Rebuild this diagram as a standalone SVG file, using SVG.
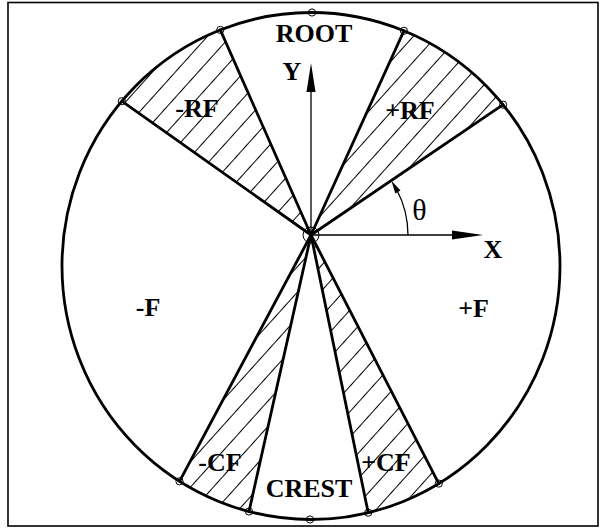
<svg xmlns="http://www.w3.org/2000/svg" width="605" height="529" viewBox="0 0 605 529">
<style>
.thick{stroke:#000;stroke-width:2.8;fill:none;stroke-linecap:round}
.thin{stroke:#000;stroke-width:1.3;fill:none}
.pt{stroke:#000;stroke-width:1;fill:none}
.hatch{fill:url(#h);stroke:none}
.lbl{font-family:"Liberation Serif","Times New Roman",serif;font-weight:bold;font-size:26px;text-anchor:middle;fill:#000}
.greek{font-family:"Liberation Serif","Times New Roman",serif;font-size:30px;text-anchor:middle;fill:#000}
</style>
<defs>
<pattern id="h" patternUnits="userSpaceOnUse" width="17" height="17" patternTransform="rotate(42)">
<line x1="8.5" y1="-1" x2="8.5" y2="18" stroke="#000" stroke-width="1"/>
</pattern>
</defs>
<rect id="frame" x="8" y="2.5" width="590" height="523.5" fill="none" stroke="#000" stroke-width="1.6"/>
<g id="sector-neg-RF">
<path class="hatch" d="M311 235 L121.8 101.2 A249 253.5 0 0 1 220.3 29.9 Z"/>
</g>
<g id="sector-pos-RF">
<path class="hatch" d="M311 235 L403.9 30.8 A249 253.5 0 0 1 503.1 104.7 Z"/>
</g>
<g id="sector-pos-CF">
<path class="hatch" d="M311 235 L438.8 483.6 A249 253.5 0 0 1 368.2 512.7 Z"/>
</g>
<g id="sector-neg-CF">
<path class="hatch" d="M311 235 L249 511.5 A249 253.5 0 0 1 179.5 481.3 Z"/>
</g>
<g id="rim">
<ellipse class="thick" cx="311" cy="266" rx="249" ry="253.5"/>
</g>
<g id="connectors">
<line class="thick" x1="311" y1="235" x2="220.3" y2="29.9"/>
<line class="thick" x1="311" y1="235" x2="121.8" y2="101.2"/>
<line class="thick" x1="311" y1="235" x2="403.9" y2="30.8"/>
<line class="thick" x1="311" y1="235" x2="503.1" y2="104.7"/>
<line class="thick" x1="311" y1="235" x2="179.5" y2="481.3"/>
<line class="thick" x1="311" y1="235" x2="249" y2="511.5"/>
<line class="thick" x1="311" y1="235" x2="368.2" y2="512.7"/>
<line class="thick" x1="311" y1="235" x2="438.8" y2="483.6"/>
</g>
<g id="points">
<circle class="pt" cx="311" cy="235" r="8"/>
<circle class="pt" cx="312" cy="12.5" r="3.6"/>
<circle class="pt" cx="220.3" cy="29.9" r="3.6"/>
<circle class="pt" cx="121.8" cy="101.2" r="3.6"/>
<circle class="pt" cx="403.9" cy="30.8" r="3.6"/>
<circle class="pt" cx="503.1" cy="104.7" r="3.6"/>
<circle class="pt" cx="179.5" cy="481.3" r="3.6"/>
<circle class="pt" cx="249" cy="511.5" r="3.6"/>
<circle class="pt" cx="310" cy="519.5" r="3.6"/>
<circle class="pt" cx="368.2" cy="512.7" r="3.6"/>
<circle class="pt" cx="438.8" cy="483.6" r="3.6"/>
</g>
<g id="axis-Y">
<line class="thin" x1="311" y1="235" x2="311" y2="88"/>
<polygon points="311,63 306.5,92 315.5,92" fill="#000"/>
<text class="lbl" x="292" y="80">Y</text>
</g>
<g id="axis-X">
<line class="thin" x1="311" y1="235" x2="456" y2="235"/>
<polygon points="483,235 452,230.5 452,239.5" fill="#000"/>
<text class="lbl" x="493" y="258">X</text>
</g>
<g id="angle-theta">
<path class="thin" d="M408 235 A97 97 0 0 0 396.6 189.5"/>
<polygon points="391.4,180.8 400.5,190.6 395.3,193.6" fill="#000"/>
<text class="greek" x="419.5" y="220">θ</text>
</g>
<g id="labels">
<text class="lbl" x="314" y="42">ROOT</text>
<text class="lbl" x="197" y="117">-RF</text>
<text class="lbl" x="410" y="119">+RF</text>
<text class="lbl" x="148" y="316">-F</text>
<text class="lbl" x="473.5" y="317">+F</text>
<text class="lbl" x="220" y="471">-CF</text>
<text class="lbl" x="386" y="471">+CF</text>
<text class="lbl" x="309" y="497">CREST</text>
</g>
</svg>
